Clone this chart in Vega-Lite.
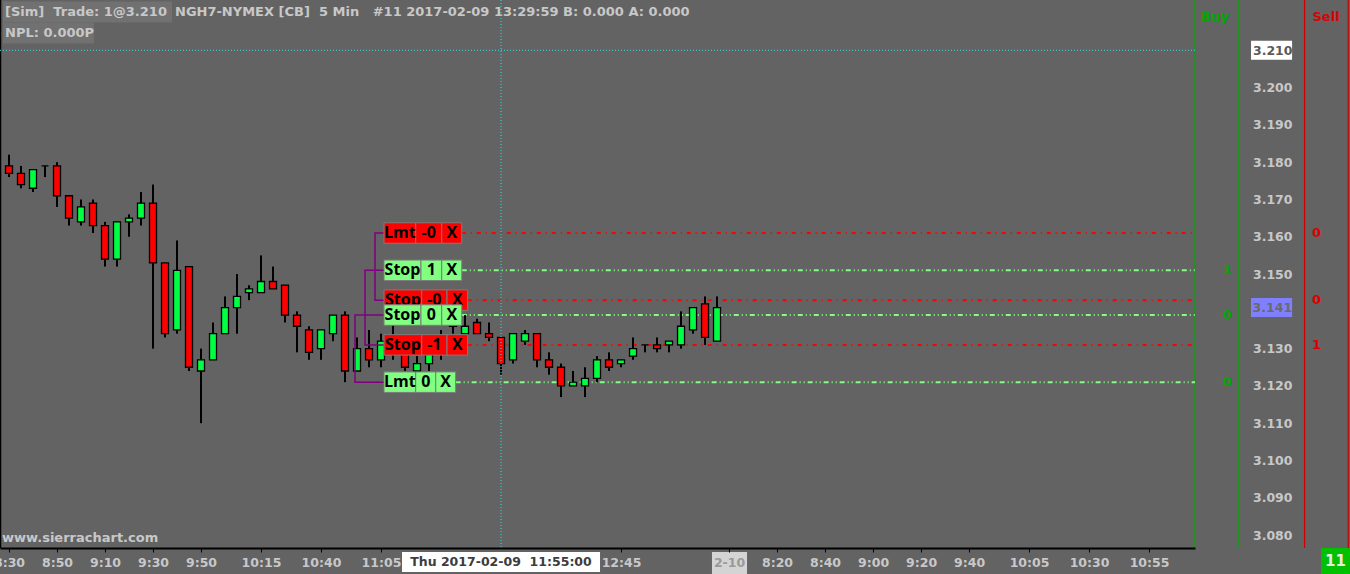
{
  "$schema": "https://vega.github.io/schema/vega-lite/v6.json",
  "width": 1195,
  "height": 548,
  "autosize": {"type": "none"},
  "padding": {"left": 0, "top": 0, "right": 155, "bottom": 26},
  "background": "#636363",
  "config": {
    "view": {"stroke": null},
    "axis": {"grid": false, "labelFont": "DejaVu Sans", "titleFont": "DejaVu Sans"},
    "text": {"font": "DejaVu Sans"},
    "scale": {"continuousPadding": 0}
  },
  "datasets": {
    "candles": [
      {"i":0,"o":3.179,"h":3.182,"l":3.176,"c":3.177},
      {"i":1,"o":3.177,"h":3.179,"l":3.173,"c":3.174},
      {"i":2,"o":3.173,"h":3.178,"l":3.172,"c":3.178},
      {"i":3,"o":3.179,"h":3.179,"l":3.176,"c":3.179},
      {"i":4,"o":3.179,"h":3.180,"l":3.168,"c":3.171},
      {"i":5,"o":3.171,"h":3.171,"l":3.163,"c":3.165},
      {"i":6,"o":3.164,"h":3.170,"l":3.163,"c":3.168},
      {"i":7,"o":3.169,"h":3.170,"l":3.161,"c":3.163},
      {"i":8,"o":3.163,"h":3.164,"l":3.152,"c":3.154},
      {"i":9,"o":3.154,"h":3.164,"l":3.152,"c":3.164},
      {"i":10,"o":3.164,"h":3.166,"l":3.160,"c":3.165},
      {"i":11,"o":3.165,"h":3.172,"l":3.163,"c":3.169},
      {"i":12,"o":3.169,"h":3.174,"l":3.130,"c":3.153},
      {"i":13,"o":3.153,"h":3.153,"l":3.133,"c":3.134},
      {"i":14,"o":3.135,"h":3.159,"l":3.134,"c":3.151},
      {"i":15,"o":3.152,"h":3.152,"l":3.124,"c":3.125},
      {"i":16,"o":3.124,"h":3.130,"l":3.110,"c":3.127},
      {"i":17,"o":3.127,"h":3.137,"l":3.127,"c":3.134},
      {"i":18,"o":3.134,"h":3.144,"l":3.134,"c":3.141},
      {"i":19,"o":3.141,"h":3.150,"l":3.134,"c":3.144},
      {"i":20,"o":3.145,"h":3.147,"l":3.143,"c":3.146},
      {"i":21,"o":3.145,"h":3.155,"l":3.145,"c":3.148},
      {"i":22,"o":3.148,"h":3.152,"l":3.146,"c":3.146},
      {"i":23,"o":3.147,"h":3.147,"l":3.137,"c":3.139},
      {"i":24,"o":3.139,"h":3.140,"l":3.129,"c":3.136},
      {"i":25,"o":3.135,"h":3.136,"l":3.127,"c":3.129},
      {"i":26,"o":3.130,"h":3.135,"l":3.127,"c":3.135},
      {"i":27,"o":3.134,"h":3.139,"l":3.132,"c":3.139},
      {"i":28,"o":3.139,"h":3.140,"l":3.121,"c":3.124},
      {"i":29,"o":3.124,"h":3.133,"l":3.124,"c":3.130},
      {"i":30,"o":3.130,"h":3.135,"l":3.125,"c":3.127},
      {"i":31,"o":3.127,"h":3.134,"l":3.125,"c":3.132},
      {"i":32,"o":3.129,"h":3.137,"l":3.127,"c":3.133},
      {"i":33,"o":3.129,"h":3.131,"l":3.124,"c":3.125},
      {"i":34,"o":3.124,"h":3.128,"l":3.124,"c":3.126},
      {"i":35,"o":3.126,"h":3.131,"l":3.124,"c":3.129},
      {"i":36,"o":3.129,"h":3.135,"l":3.127,"c":3.133},
      {"i":37,"o":3.139,"h":3.140,"l":3.134,"c":3.136},
      {"i":38,"o":3.134,"h":3.139,"l":3.134,"c":3.136},
      {"i":39,"o":3.137,"h":3.138,"l":3.134,"c":3.134},
      {"i":40,"o":3.134,"h":3.137,"l":3.132,"c":3.133},
      {"i":41,"o":3.133,"h":3.133,"l":3.123,"c":3.126},
      {"i":42,"o":3.127,"h":3.134,"l":3.126,"c":3.134},
      {"i":43,"o":3.132,"h":3.135,"l":3.131,"c":3.134},
      {"i":44,"o":3.134,"h":3.134,"l":3.125,"c":3.127},
      {"i":45,"o":3.127,"h":3.129,"l":3.123,"c":3.125},
      {"i":46,"o":3.125,"h":3.126,"l":3.117,"c":3.120},
      {"i":47,"o":3.120,"h":3.124,"l":3.120,"c":3.121},
      {"i":48,"o":3.120,"h":3.125,"l":3.117,"c":3.122},
      {"i":49,"o":3.122,"h":3.128,"l":3.121,"c":3.127},
      {"i":50,"o":3.127,"h":3.129,"l":3.124,"c":3.125},
      {"i":51,"o":3.126,"h":3.127,"l":3.125,"c":3.127},
      {"i":52,"o":3.128,"h":3.133,"l":3.127,"c":3.130},
      {"i":53,"o":3.131,"h":3.131,"l":3.129,"c":3.131},
      {"i":54,"o":3.131,"h":3.133,"l":3.129,"c":3.130},
      {"i":55,"o":3.131,"h":3.132,"l":3.129,"c":3.132},
      {"i":56,"o":3.131,"h":3.140,"l":3.130,"c":3.136},
      {"i":57,"o":3.135,"h":3.141,"l":3.134,"c":3.141},
      {"i":58,"o":3.142,"h":3.144,"l":3.131,"c":3.133},
      {"i":59,"o":3.132,"h":3.144,"l":3.132,"c":3.141}
    ],
    "orders": [
      {"ord":"Lmt -0","side":"sell","p":3.161,"qty":"0","e":37.73},
      {"ord":"Stop 1","side":"buy","p":3.151,"qty":"1","e":37.73},
      {"ord":"Stop -0","side":"sell","p":3.143,"qty":"0","e":38.22},
      {"ord":"Stop 0","side":"buy","p":3.139,"qty":"0","e":37.73},
      {"ord":"Stop -1","side":"sell","p":3.131,"qty":"1","e":38.22},
      {"ord":"Lmt 0","side":"buy","p":3.121,"qty":"0","e":37.22}
    ],
    "cells": [
      {"ord":"Lmt -0","side":"sell","p":3.161,"a":31.25,"b":33.89,"m":32.57,"t":"Lmt"},
      {"ord":"Lmt -0","side":"sell","p":3.161,"a":33.89,"b":36.06,"m":34.975,"t":"-0"},
      {"ord":"Lmt -0","side":"sell","p":3.161,"a":36.06,"b":37.73,"m":36.895,"t":"X"},
      {"ord":"Stop 1","side":"buy","p":3.151,"a":31.25,"b":34.33,"m":32.79,"t":"Stop"},
      {"ord":"Stop 1","side":"buy","p":3.151,"a":34.33,"b":36.06,"m":35.195,"t":"1"},
      {"ord":"Stop 1","side":"buy","p":3.151,"a":36.06,"b":37.73,"m":36.895,"t":"X"},
      {"ord":"Stop -0","side":"sell","p":3.143,"a":31.25,"b":34.39,"m":32.82,"t":"Stop"},
      {"ord":"Stop -0","side":"sell","p":3.143,"a":34.39,"b":36.5,"m":35.445,"t":"-0"},
      {"ord":"Stop -0","side":"sell","p":3.143,"a":36.5,"b":38.22,"m":37.36,"t":"X"},
      {"ord":"Stop 0","side":"buy","p":3.139,"a":31.25,"b":34.33,"m":32.79,"t":"Stop"},
      {"ord":"Stop 0","side":"buy","p":3.139,"a":34.33,"b":36.06,"m":35.195,"t":"0"},
      {"ord":"Stop 0","side":"buy","p":3.139,"a":36.06,"b":37.73,"m":36.895,"t":"X"},
      {"ord":"Stop -1","side":"sell","p":3.131,"a":31.25,"b":34.39,"m":32.82,"t":"Stop"},
      {"ord":"Stop -1","side":"sell","p":3.131,"a":34.39,"b":36.5,"m":35.445,"t":"-1"},
      {"ord":"Stop -1","side":"sell","p":3.131,"a":36.5,"b":38.22,"m":37.36,"t":"X"},
      {"ord":"Lmt 0","side":"buy","p":3.121,"a":31.25,"b":33.89,"m":32.57,"t":"Lmt"},
      {"ord":"Lmt 0","side":"buy","p":3.121,"a":33.89,"b":35.56,"m":34.725,"t":"0"},
      {"ord":"Lmt 0","side":"buy","p":3.121,"a":35.56,"b":37.22,"m":36.39,"t":"X"}
    ],
    "brackets": [
      {"g":1,"s":0,"i":31.25,"p":3.161},{"g":1,"s":1,"i":30.5,"p":3.161},{"g":1,"s":2,"i":30.5,"p":3.143},{"g":1,"s":3,"i":31.25,"p":3.143},
      {"g":2,"s":0,"i":31.25,"p":3.151},{"g":2,"s":1,"i":29.667,"p":3.151},{"g":2,"s":2,"i":29.667,"p":3.131},{"g":2,"s":3,"i":31.25,"p":3.131},
      {"g":3,"s":0,"i":31.25,"p":3.139},{"g":3,"s":1,"i":28.833,"p":3.139},{"g":3,"s":2,"i":28.833,"p":3.121},{"g":3,"s":3,"i":31.25,"p":3.121}
    ]
  },
  "layer": [
    {
      "data": {"values": [{"a":-0.5,"b":13.583,"p":3.22027},{"a":-0.5,"b":7.083,"p":3.21464}]},
      "mark": {"type":"bar","orient":"horizontal","size":21,"color":"#717171"},
      "encoding": {
        "x": {"field":"a","type":"quantitative","title":null,"scale":{"domain":[-0.75,98.83],"nice":false,"zero":false,"padding":0}},
        "x2": {"field":"b"},
        "y": {"field":"p","type":"quantitative","title":null,"scale":{"domain":[3.07653,3.22349],"nice":false,"zero":false,"padding":0}}
      }
    },
    {
      "data": {"values": [
        {"t":"[Sim]\u00a0 Trade: 1@3.210","i":-0.333,"p":3.22027},
        {"t":"NGH7-NYMEX [CB]\u00a0 5 Min\u00a0\u00a0 #11 2017-02-09 13:29:59 B: 0.000 A: 0.000","i":13.833,"p":3.22027},
        {"t":"NPL: 0.000P","i":-0.333,"p":3.21464},
        {"t":"www.sierrachart.com","i":-0.583,"p":3.07922}
      ]},
      "mark": {"type":"text","align":"left","baseline":"middle","fontSize":13,"fontWeight":"bold","color":"#c8c8c8"},
      "encoding": {
        "x": {"field":"i","type":"quantitative","title":null,"scale":{"domain":[-0.75,98.83],"nice":false,"zero":false,"padding":0}},
        "y": {"field":"p","type":"quantitative","title":null,"scale":{"domain":[3.07653,3.22349],"nice":false,"zero":false,"padding":0}},
        "text": {"field":"t"}
      }
    },
    {
      "data": {"values": [{"i":-0.708}]},
      "mark": {"type":"rule","color":"#000000","strokeWidth":1.5},
      "encoding": {
        "x": {"field":"i","type":"quantitative","title":null,"scale":{"domain":[-0.75,98.83],"nice":false,"zero":false,"padding":0}}
      }
    },
    {
      "data": {"values": [{"i":98.83,"side":"buy"},{"i":102.42,"side":"buy"},{"i":107.96,"side":"sell"},{"i":111.6,"side":"sell"}]},
      "mark": {"type":"rule","strokeWidth":1.2},
      "encoding": {
        "x": {"field":"i","type":"quantitative","title":null,"scale":{"domain":[-0.75,98.83],"nice":false,"zero":false,"padding":0}},
        "color": {"condition":{"test":"datum.side=='buy'","value":"#00a800"},"value":"#d00000"}
      }
    },
    {
      "data": {"name":"orders"},
      "transform": [{"filter":"datum.side=='sell'"}],
      "mark": {"type":"rule","color":"#ff0000","strokeWidth":2,"strokeDash":[4,5,1,5]},
      "encoding": {
        "x": {"field":"e","type":"quantitative","title":null,"scale":{"domain":[-0.75,98.83],"nice":false,"zero":false,"padding":0}},
        "x2": {"datum":98.83},
        "y": {"field":"p","type":"quantitative","title":null,"scale":{"domain":[3.07653,3.22349],"nice":false,"zero":false,"padding":0}}
      }
    },
    {
      "data": {"name":"orders"},
      "transform": [{"filter":"datum.side=='buy'"}],
      "mark": {"type":"rule","color":"#80ff80","strokeWidth":2,"strokeDash":[5,3,1,3,1,3]},
      "encoding": {
        "x": {"field":"e","type":"quantitative","title":null,"scale":{"domain":[-0.75,98.83],"nice":false,"zero":false,"padding":0}},
        "x2": {"datum":98.83},
        "y": {"field":"p","type":"quantitative","title":null,"scale":{"domain":[3.07653,3.22349],"nice":false,"zero":false,"padding":0}}
      }
    },
    {
      "data": {"name":"candles"},
      "mark": {"type":"rule","color":"#000000","strokeWidth":2},
      "encoding": {
        "x": {"field":"i","type":"quantitative","title":null,"scale":{"domain":[-0.75,98.83],"nice":false,"zero":false,"padding":0}},
        "y": {"field":"l","type":"quantitative","title":null,"scale":{"domain":[3.07653,3.22349],"nice":false,"zero":false,"padding":0}},
        "y2": {"field":"h"}
      }
    },
    {
      "data": {"name":"candles"},
      "mark": {"type":"bar","size":7,"stroke":"#000000","strokeWidth":1.3},
      "encoding": {
        "x": {"field":"i","type":"quantitative","title":null,
          "scale":{"domain":[-0.75,98.83],"nice":false,"zero":false,"padding":0},
          "axis":{
            "values":[0,4,8,12,16,21,26,31,51,60,64,68,72,76,80,85,90,95],
            "labelExpr":"['8:30','8:50','9:10','9:30','9:50','10:15','10:40','11:05','12:45','2-10','8:20','8:40','9:00','9:20','9:40','10:05','10:30','10:55'][indexof([0,4,8,12,16,21,26,31,51,60,64,68,72,76,80,85,90,95], datum.value)]",
            "domainColor":"#000000","domainWidth":2,
            "tickColor":"#000000","tickSize":4,"tickWidth":1,
            "labelColor":{"condition":{"test":"datum.value==60","value":"#9a9a9a"},"value":"#c8c8c8"},
            "labelFontSize":12.5,"labelFontWeight":"bold","labelPadding":4,
            "labelFlush":false,"labelOverlap":false,"grid":false,"zindex":1
          }},
        "y": {"field":"o","type":"quantitative","title":null,
          "scale":{"domain":[3.07653,3.22349],"nice":false,"zero":false,"padding":0},
          "axis":{
            "orient":"right",
            "values":[3.08,3.09,3.1,3.11,3.12,3.13,3.15,3.16,3.17,3.18,3.19,3.2,3.21],
            "format":".3f","domain":false,"ticks":false,"tickSize":0,"grid":false,
            "labelAlign":"right","labelPadding":97,
            "labelColor":{"condition":{"test":"datum.value>3.2095","value":"#5a5a5a"},"value":"#c8c8c8"},
            "labelFontSize":12.5,"labelFontWeight":"bold","zindex":1
          }},
        "y2": {"field":"c"},
        "fill": {"condition":{"test":"datum.c>datum.o","value":"#00ff40"},"value":"#ff0000"}
      }
    },
    {
      "data": {"values": [{"i":41}]},
      "mark": {"type":"rule","color":"#30e0e8","strokeWidth":1,"strokeDash":[1,2]},
      "encoding": {
        "x": {"field":"i","type":"quantitative","title":null,"scale":{"domain":[-0.75,98.83],"nice":false,"zero":false,"padding":0}}
      }
    },
    {
      "data": {"values": [{"p":3.21}]},
      "mark": {"type":"rule","color":"#30e0e8","strokeWidth":1,"strokeDash":[1,2]},
      "encoding": {
        "y": {"field":"p","type":"quantitative","title":null,"scale":{"domain":[3.07653,3.22349],"nice":false,"zero":false,"padding":0}}
      }
    },
    {
      "data": {"name":"brackets"},
      "mark": {"type":"line","color":"#800080","strokeWidth":1.5},
      "encoding": {
        "x": {"field":"i","type":"quantitative","title":null,"scale":{"domain":[-0.75,98.83],"nice":false,"zero":false,"padding":0}},
        "y": {"field":"p","type":"quantitative","title":null,"scale":{"domain":[3.07653,3.22349],"nice":false,"zero":false,"padding":0}},
        "detail": {"field":"g"},
        "order": {"field":"s"}
      }
    },
    {
      "data": {"name":"cells"},
      "transform": [{"filter":"datum.p>=3.143"}],
      "mark": {"type":"bar","orient":"horizontal","size":20.5,"stroke":"#7c7c7c","strokeWidth":1},
      "encoding": {
        "x": {"field":"a","type":"quantitative","title":null,"scale":{"domain":[-0.75,98.83],"nice":false,"zero":false,"padding":0}},
        "x2": {"field":"b"},
        "y": {"field":"p","type":"quantitative","title":null,"scale":{"domain":[3.07653,3.22349],"nice":false,"zero":false,"padding":0}},
        "fill": {"condition":{"test":"datum.side=='sell'","value":"#ff0000"},"value":"#80ff80"}
      }
    },
    {
      "data": {"name":"cells"},
      "transform": [{"filter":"datum.p>=3.143"}],
      "mark": {"type":"text","align":"center","baseline":"middle","font":"Open Sans","fontSize":16,"fontWeight":"bold","color":"#000000"},
      "encoding": {
        "x": {"field":"m","type":"quantitative","title":null,"scale":{"domain":[-0.75,98.83],"nice":false,"zero":false,"padding":0}},
        "y": {"field":"p","type":"quantitative","title":null,"scale":{"domain":[3.07653,3.22349],"nice":false,"zero":false,"padding":0}},
        "text": {"field":"t"}
      }
    },
    {
      "data": {"name":"cells"},
      "transform": [{"filter":"datum.p<3.143"}],
      "mark": {"type":"bar","orient":"horizontal","size":20.5,"stroke":"#7c7c7c","strokeWidth":1},
      "encoding": {
        "x": {"field":"a","type":"quantitative","title":null,"scale":{"domain":[-0.75,98.83],"nice":false,"zero":false,"padding":0}},
        "x2": {"field":"b"},
        "y": {"field":"p","type":"quantitative","title":null,"scale":{"domain":[3.07653,3.22349],"nice":false,"zero":false,"padding":0}},
        "fill": {"condition":{"test":"datum.side=='sell'","value":"#ff0000"},"value":"#80ff80"}
      }
    },
    {
      "data": {"name":"cells"},
      "transform": [{"filter":"datum.p<3.143"}],
      "mark": {"type":"text","align":"center","baseline":"middle","font":"Open Sans","fontSize":16,"fontWeight":"bold","color":"#000000"},
      "encoding": {
        "x": {"field":"m","type":"quantitative","title":null,"scale":{"domain":[-0.75,98.83],"nice":false,"zero":false,"padding":0}},
        "y": {"field":"p","type":"quantitative","title":null,"scale":{"domain":[3.07653,3.22349],"nice":false,"zero":false,"padding":0}},
        "text": {"field":"t"}
      }
    },
    {
      "data": {"values": [{"t":"Buy","side":"buy","i":100.5,"p":3.21893},{"t":"Sell","side":"sell","i":109.75,"p":3.21893}]},
      "mark": {"type":"text","align":"center","baseline":"middle","fontSize":13,"fontWeight":"bold"},
      "encoding": {
        "x": {"field":"i","type":"quantitative","title":null,"scale":{"domain":[-0.75,98.83],"nice":false,"zero":false,"padding":0}},
        "y": {"field":"p","type":"quantitative","title":null,"scale":{"domain":[3.07653,3.22349],"nice":false,"zero":false,"padding":0}},
        "text": {"field":"t"},
        "color": {"condition":{"test":"datum.side=='buy'","value":"#00a800"},"value":"#dd0000"}
      }
    },
    {
      "data": {"name":"orders"},
      "transform": [{"filter":"datum.side=='buy'"}],
      "mark": {"type":"text","align":"right","baseline":"middle","fontSize":13,"fontWeight":"bold","color":"#00a800"},
      "encoding": {
        "x": {"datum":101.92,"type":"quantitative","scale":{"domain":[-0.75,98.83],"nice":false,"zero":false,"padding":0}},
        "y": {"field":"p","type":"quantitative","title":null,"scale":{"domain":[3.07653,3.22349],"nice":false,"zero":false,"padding":0}},
        "text": {"field":"qty"}
      }
    },
    {
      "data": {"name":"orders"},
      "transform": [{"filter":"datum.side=='sell'"}],
      "mark": {"type":"text","align":"left","baseline":"middle","fontSize":13,"fontWeight":"bold","color":"#dd0000"},
      "encoding": {
        "x": {"datum":108.58,"type":"quantitative","scale":{"domain":[-0.75,98.83],"nice":false,"zero":false,"padding":0}},
        "y": {"field":"p","type":"quantitative","title":null,"scale":{"domain":[3.07653,3.22349],"nice":false,"zero":false,"padding":0}},
        "text": {"field":"qty"}
      }
    },
    {
      "data": {"values": [{"a":103.5,"b":106.92,"p":3.21}]},
      "mark": {"type":"bar","orient":"horizontal","size":19,"color":"#ffffff"},
      "encoding": {
        "x": {"field":"a","type":"quantitative","title":null,"scale":{"domain":[-0.75,98.83],"nice":false,"zero":false,"padding":0}},
        "x2": {"field":"b"},
        "y": {"field":"p","type":"quantitative","title":null,"scale":{"domain":[3.07653,3.22349],"nice":false,"zero":false,"padding":0}}
      }
    },
    {
      "data": {"values": [{"a":103.5,"b":106.92,"p":3.141}]},
      "mark": {"type":"bar","orient":"horizontal","size":19,"color":"#8080ff"},
      "encoding": {
        "x": {"field":"a","type":"quantitative","title":null,"scale":{"domain":[-0.75,98.83],"nice":false,"zero":false,"padding":0}},
        "x2": {"field":"b"},
        "y": {"field":"p","type":"quantitative","title":null,"scale":{"domain":[3.07653,3.22349],"nice":false,"zero":false,"padding":0}}
      }
    },
    {
      "data": {"values": [{"t":"3.141","i":106.92,"p":3.141}]},
      "mark": {"type":"text","align":"right","baseline":"middle","fontSize":12.5,"fontWeight":"bold","color":"#6a6a6a"},
      "encoding": {
        "x": {"field":"i","type":"quantitative","title":null,"scale":{"domain":[-0.75,98.83],"nice":false,"zero":false,"padding":0}},
        "y": {"field":"p","type":"quantitative","title":null,"scale":{"domain":[3.07653,3.22349],"nice":false,"zero":false,"padding":0}},
        "text": {"field":"t"}
      }
    },
    {
      "data": {"values": [{"a":32.75,"b":49.25,"p":3.07278}]},
      "mark": {"type":"bar","orient":"horizontal","size":20,"color":"#ffffff"},
      "encoding": {
        "x": {"field":"a","type":"quantitative","title":null,"scale":{"domain":[-0.75,98.83],"nice":false,"zero":false,"padding":0}},
        "x2": {"field":"b"},
        "y": {"field":"p","type":"quantitative","title":null,"scale":{"domain":[3.07653,3.22349],"nice":false,"zero":false,"padding":0}}
      }
    },
    {
      "data": {"values": [{"t":"Thu 2017-02-09\u00a0 11:55:00","i":41,"p":3.07278}]},
      "mark": {"type":"text","align":"center","baseline":"middle","fontSize":12.5,"fontWeight":"bold","color":"#3c3c3c"},
      "encoding": {
        "x": {"field":"i","type":"quantitative","title":null,"scale":{"domain":[-0.75,98.83],"nice":false,"zero":false,"padding":0}},
        "y": {"field":"p","type":"quantitative","title":null,"scale":{"domain":[3.07653,3.22349],"nice":false,"zero":false,"padding":0}},
        "text": {"field":"t"}
      }
    },
    {
      "data": {"values": [{"a":58.58,"b":61.5,"p":3.07251}]},
      "mark": {"type":"bar","orient":"horizontal","size":22,"color":"#d4d4d4"},
      "encoding": {
        "x": {"field":"a","type":"quantitative","title":null,"scale":{"domain":[-0.75,98.83],"nice":false,"zero":false,"padding":0}},
        "x2": {"field":"b"},
        "y": {"field":"p","type":"quantitative","title":null,"scale":{"domain":[3.07653,3.22349],"nice":false,"zero":false,"padding":0}}
      }
    },
    {
      "data": {"values": [{"a":109.33,"b":111.75,"p":3.07305}]},
      "mark": {"type":"bar","orient":"horizontal","size":26,"color":"#00c000"},
      "encoding": {
        "x": {"field":"a","type":"quantitative","title":null,"scale":{"domain":[-0.75,98.83],"nice":false,"zero":false,"padding":0}},
        "x2": {"field":"b"},
        "y": {"field":"p","type":"quantitative","title":null,"scale":{"domain":[3.07653,3.22349],"nice":false,"zero":false,"padding":0}}
      }
    },
    {
      "data": {"values": [{"t":"11","i":110.54,"p":3.07305}]},
      "mark": {"type":"text","align":"center","baseline":"middle","fontSize":15,"fontWeight":"bold","color":"#e8e8e8"},
      "encoding": {
        "x": {"field":"i","type":"quantitative","title":null,"scale":{"domain":[-0.75,98.83],"nice":false,"zero":false,"padding":0}},
        "y": {"field":"p","type":"quantitative","title":null,"scale":{"domain":[3.07653,3.22349],"nice":false,"zero":false,"padding":0}},
        "text": {"field":"t"}
      }
    }
  ]
}
